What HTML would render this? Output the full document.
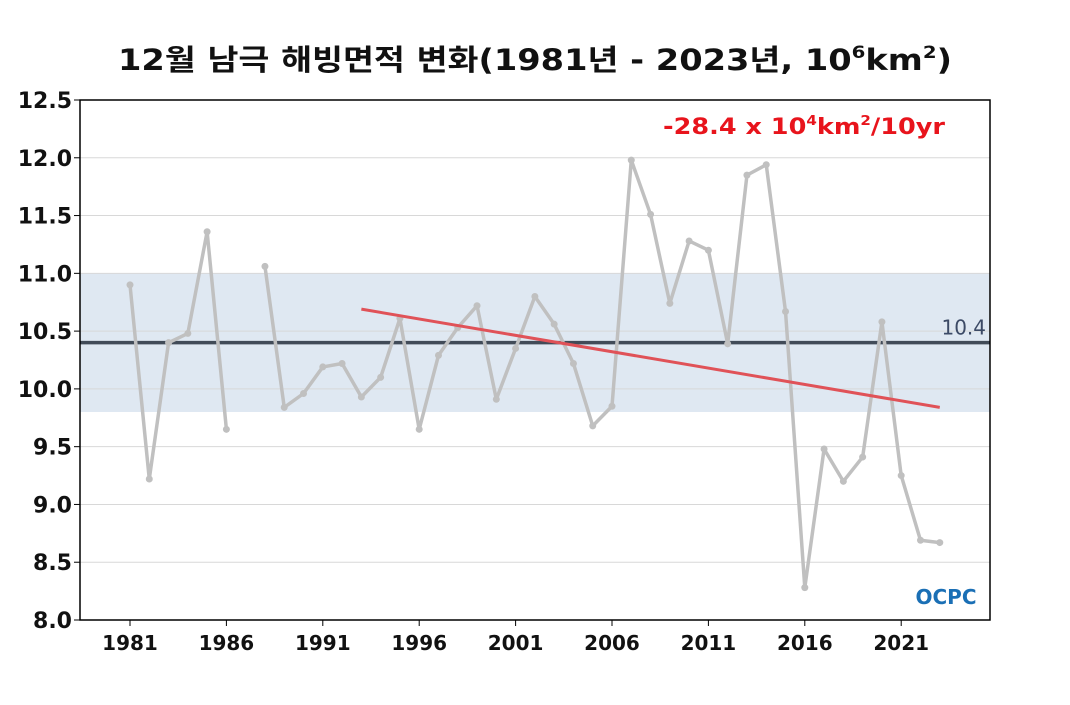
<!DOCTYPE html>
<html><head><meta charset="utf-8"><style>
body{margin:0;background:#fff;}
svg text{font-family:"DejaVu Sans","Noto Sans CJK KR",sans-serif;}
</style></head><body>
<svg width="1070" height="700" xmlns="http://www.w3.org/2000/svg">
<text x="118" y="70" textLength="834" lengthAdjust="spacingAndGlyphs" font-size="29" font-weight="bold" fill="#111">12월 남극 해빙면적 변화(1981년 - 2023년, 10<tspan font-size="17" dy="-12">6</tspan><tspan dy="12">km</tspan><tspan font-size="17" dy="-12">2</tspan><tspan dy="12">)</tspan></text>
<g id="plot"></g>
<text x="663" y="134" textLength="282" lengthAdjust="spacingAndGlyphs" font-size="22" font-weight="bold" fill="#e8141c">-28.4 x 10<tspan font-size="13" dy="-9">4</tspan><tspan dy="9">km</tspan><tspan font-size="13" dy="-9">2</tspan><tspan dy="9">/10yr</tspan></text>
<text x="946" y="604" text-anchor="middle" font-size="20" font-weight="bold" fill="#1a6fb5">OCPC</text>
</svg>
<script>
const years=[1981,1982,1983,1984,1985,1986,1987,1988,1989,1990,1991,1992,1993,1994,1995,1996,1997,1998,1999,2000,2001,2002,2003,2004,2005,2006,2007,2008,2009,2010,2011,2012,2013,2014,2015,2016,2017,2018,2019,2020,2021,2022,2023];
const values=[10.90,9.22,10.40,10.48,11.36,9.65,null,11.06,9.84,9.96,10.19,10.22,9.93,10.10,10.61,9.65,10.29,10.53,10.72,9.91,10.35,10.80,10.56,10.22,9.68,9.85,11.98,11.51,10.74,11.28,11.20,10.39,11.85,11.94,10.67,8.28,9.48,9.20,9.41,10.58,9.25,8.69,8.67];
const yTicks=[8.0,8.5,9.0,9.5,10.0,10.5,11.0,11.5,12.0,12.5];
const xTicks=[1981,1986,1991,1996,2001,2006,2011,2016,2021];
const meanValue=[10.4];
const band=[9.8,11.0];
const trendYears=[1993,2023];
const trendValues=[10.69,9.84];
const L=80,R=990,T=100,B=620;
const X=y=>130+(y-1981)*19.28;
const Y=v=>B-(v-8)/(4.5)*(B-T);
const g=document.getElementById('plot');
const NS='http://www.w3.org/2000/svg';
function mk(t,a){const e=document.createElementNS(NS,t);for(const k in a)e.setAttribute(k,a[k]);g.appendChild(e);return e;}
let e=mk('rect',{x:L,y:Y(band[1]),width:R-L,height:Y(band[0])-Y(band[1]),fill:'#dfe8f2'});


yTicks.forEach(v=>{
 let l=mk('line',{x1:L,x2:R,y1:Y(v),y2:Y(v),stroke:'#d8d8d8','stroke-width':1});
 
 
 let t=mk('text',{x:L-8,y:Y(v)+8,'text-anchor':'end','font-size':22,'font-weight':'bold',fill:'#111'});
 t.textContent=v.toFixed(1);
 
 
 let k=mk('line',{x1:L-6,x2:L,y1:Y(v),y2:Y(v),stroke:'#000'});
 
 
});
xTicks.forEach(y=>{
 let t=mk('text',{x:X(y),y:B+30,'text-anchor':'middle','font-size':20,'font-weight':'bold',fill:'#111'});
 t.textContent=y;
 
 
 let k=mk('line',{x1:X(y),x2:X(y),y1:B,y2:B+6,stroke:'#000'});
 
 
});
let m=mk('line',{x1:L,x2:R,y1:Y(meanValue[0]),y2:Y(meanValue[0]),stroke:'#414b58','stroke-width':3.5});


let mt=mk('text',{x:986,y:Y(meanValue[0])-8,'text-anchor':'end','font-size':20,fill:'#3c4a66'});
mt.textContent='10.4';


let segs=[],cur=[];
years.forEach((y,i)=>{if(values[i]==null){if(cur.length)segs.push(cur);cur=[];}else cur.push([X(y),Y(values[i])]);});
if(cur.length)segs.push(cur);
segs.forEach(s=>{
 let p=mk('polyline',{points:s.map(q=>q.join(',')).join(' '),fill:'none',stroke:'#c0c0c0','stroke-width':3.5,'stroke-linejoin':'round'});
 
 
});
years.forEach((y,i)=>{if(values[i]==null)return;
 let c=mk('circle',{cx:X(y),cy:Y(values[i]),r:3.5,fill:'#c0c0c0'});
 
 
});
let tr=mk('line',{x1:X(trendYears[0]),y1:Y(trendValues[0]),x2:X(trendYears[1]),y2:Y(trendValues[1]),stroke:'#e05258','stroke-width':3});


let fr=mk('rect',{x:L,y:T,width:R-L,height:B-T,fill:'none',stroke:'#000','stroke-width':1.5});


</script>
</body></html>
